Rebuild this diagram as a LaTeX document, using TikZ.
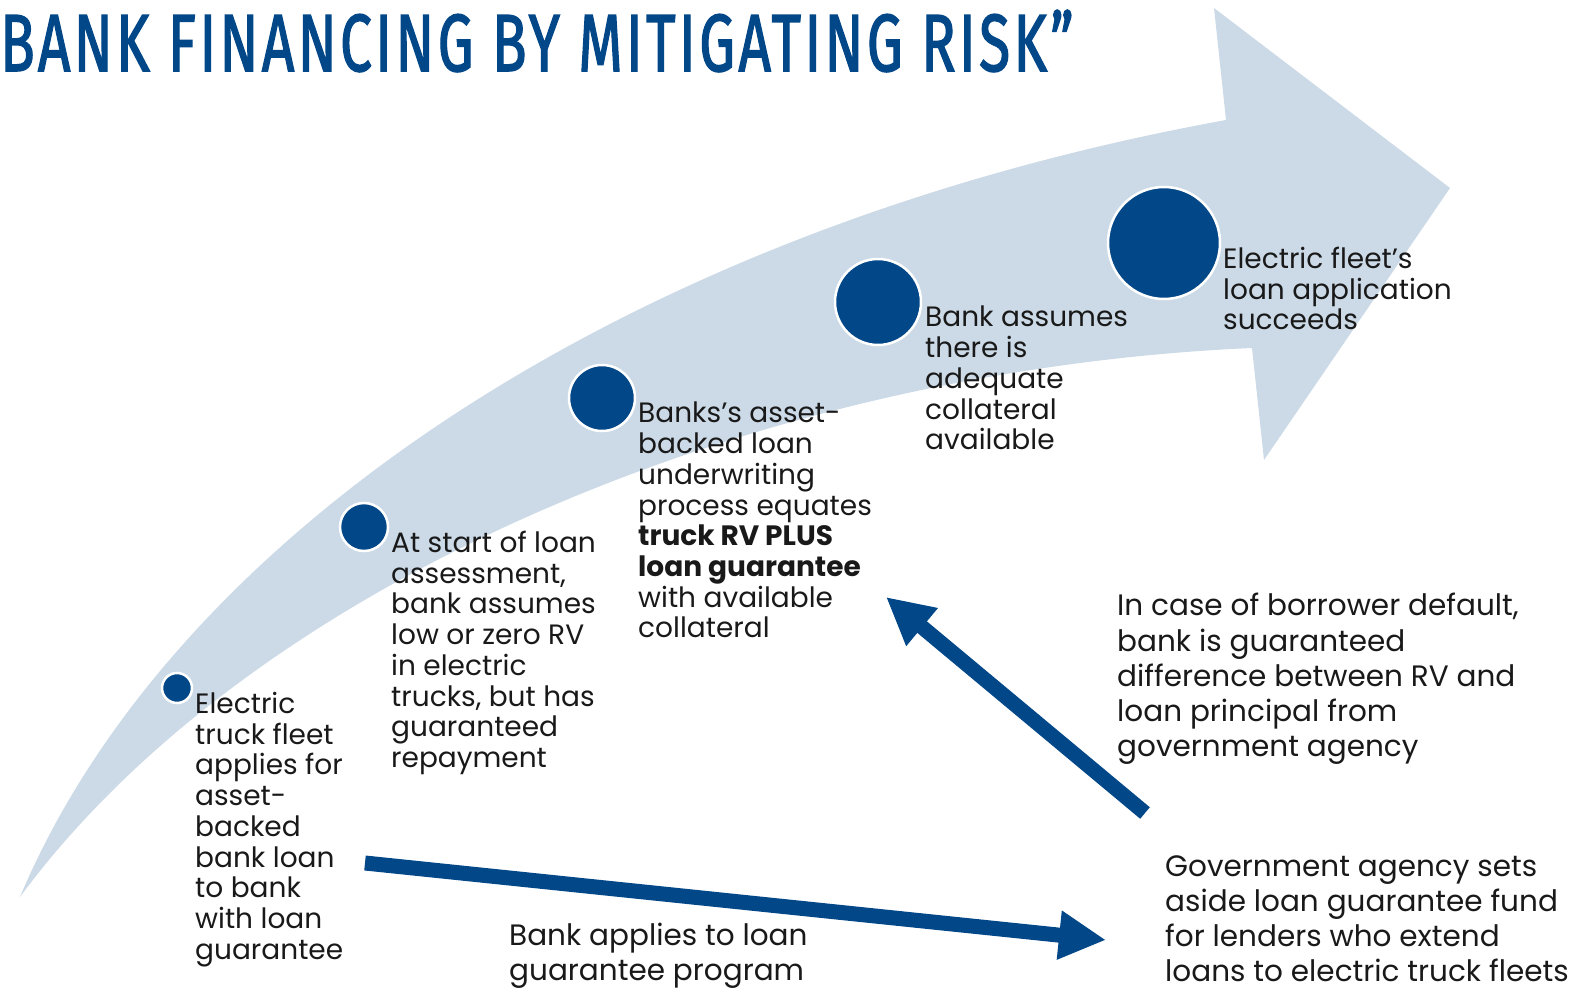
\documentclass[tikz,border=0pt]{standalone}
\usepackage{fontspec}
\setmainfont{Poppins}
\newfontfamily\titlefont{Fira Sans}[LetterSpace=6,FakeBold=2]
\usetikzlibrary{positioning,arrows.meta}
\definecolor{navy}{RGB}{2,71,136}
\definecolor{haze}{RGB}{204,218,231}

\begin{document}
\begin{tikzpicture}[x=1pt,y=-1pt,
	dot/.style={circle,fill=navy,draw=white,line width=2.5pt,inner sep=0pt},
	txt/.style={anchor=north west,align=left,inner sep=0pt,text=black!90,font=\fontsize{28}{30.7}\selectfont},
	wide/.style={anchor=north west,align=left,inner sep=0pt,text=black!90,font=\fontsize{29.5}{35.3}\selectfont},
	flow/.style={navy,line width=15pt,-{Triangle[length=47pt,width=46pt]}}]
	\useasboundingbox (0,0) rectangle (1583,990);

	% title
	\node[anchor=base west,inner sep=0pt,text=navy] (title) at (0,71)
		{\resizebox{1073pt}{61pt}{\titlefont BANK FINANCING BY MITIGATING RISK”}};

	% big curved arrow
	\fill[haze] (20,897) .. controls (170,540) and (620,230) .. (1226,120)
		-- (1214,8) -- (1450,188) -- (1264,460) -- (1252,348)
		.. controls (750,370) and (250,585) .. (20,897) -- cycle;

	% steps
	\node[dot,minimum size=30pt] (d1) at (177,688) {};
	\node[dot,minimum size=48pt] (d2) at (364,527) {};
	\node[dot,minimum size=66pt] (d3) at (602,398) {};
	\node[dot,minimum size=86pt] (d4) at (878,302) {};
	\node[dot,minimum size=112pt] (d5) at (1164,243) {};

	\node[txt] (t1) at (195,692) {Electric\\truck fleet\\applies for\\asset-\\backed\\bank loan\\to bank\\with loan\\guarantee};
	\node[txt] (t2) at (391,531) {At start of loan\\assessment,\\bank assumes\\low or zero RV\\in electric\\trucks, but has\\guaranteed\\repayment};
	\node[txt] (t3) at (638,402) {Banks’s asset-\\backed loan\\underwriting\\process equates\\\textbf{truck RV PLUS}\\\textbf{loan guarantee}\\with available\\collateral};
	\node[txt] (t4) at (925,306) {Bank assumes\\there is\\adequate\\collateral\\available};
	\node[txt] (t5) at (1223,247) {Electric fleet’s\\loan application\\succeeds};

	\node[wide] (t6) at (1117,593) {In case of borrower default,\\bank is guaranteed\\difference between RV and\\loan principal from\\government agency};
	\node[wide] (t7) at (1165,855) {Government agency sets\\aside loan guarantee fund\\for lenders who extend\\loans to electric truck fleets};
	\node[wide] (t8) at (509,923) {Bank applies to loan\\guarantee program};

	% guarantee flows
	\coordinate (a1) at (365,863);
	\coordinate (b1) at (1106,940);
	\coordinate (a2) at (1145,813);
	\coordinate (b2) at (886,597);
	\draw[flow] (a1) -- (b1);
	\draw[flow] (a2) -- (b2);
\end{tikzpicture}
\end{document}
